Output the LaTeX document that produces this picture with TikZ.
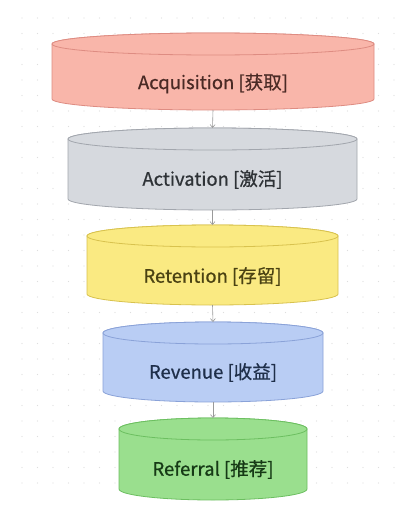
\documentclass[tikz,border=0pt]{standalone}
\usepackage{fontspec}
\setmainfont{Noto Sans CJK SC}
\newfontfamily\cylfont[RawFeature={embolden=0.7}]{Noto Sans CJK SC}
\usetikzlibrary{arrows.meta}
\definecolor{acqF}{HTML}{F9B6AA}\definecolor{acqS}{HTML}{DE8C82}\definecolor{acqT}{HTML}{4A2A25}
\definecolor{actF}{HTML}{D6D9DE}\definecolor{actS}{HTML}{A2A6AD}\definecolor{actT}{HTML}{2E3236}
\definecolor{retF}{HTML}{FAEA82}\definecolor{retS}{HTML}{D8C24E}\definecolor{retT}{HTML}{4A4212}
\definecolor{revF}{HTML}{B9CDF4}\definecolor{revS}{HTML}{8AA2D8}\definecolor{revT}{HTML}{1F2F4A}
\definecolor{refF}{HTML}{9ADF8E}\definecolor{refS}{HTML}{6CBF60}\definecolor{refT}{HTML}{163A16}
\definecolor{gridD}{HTML}{DEDEDE}\definecolor{arrG}{HTML}{9A9A9A}
\tikzset{
  cylbox/.style={inner sep=0pt, outer sep=0pt, minimum width=#1, rectangle},
  cyltext/.style={font=\cylfont\fontsize{18.5}{22}\selectfont, inner sep=1pt},
  flowarrow/.style={draw=arrG, line width=0.6pt, -{Straight Barb[length=3pt,width=5pt]}},
}
% #1 name, #2 cx, #3 top ellipse centre y, #4 bottom ellipse centre y, #5 half width, #6 prefix colour, #7 text, #8 text y
\newcommand\funnelcyl[8]{%
  \def\ry{11}%
  \pgfmathsetmacro\hh{(#4-#3)+2*\ry}%
  \pgfmathsetmacro\mm{(#3+#4)/2}%
  \node[cylbox=#5*2pt, minimum height=\hh pt] (#1) at (#2,-\mm) {};
  \filldraw[fill=#6F, draw=#6S, line width=0.8pt]
    (#2-#5,-#3) -- (#2-#5,-#4) arc[start angle=180,end angle=360,x radius=#5,y radius=\ry]
    -- (#2+#5,-#3) arc[start angle=0,end angle=180,x radius=#5,y radius=\ry] -- cycle;
  \filldraw[fill=#6F, draw=#6S, line width=0.8pt] (#2,-#3) ellipse[x radius=#5,y radius=\ry];
  \node[cyltext, text=#6T] (#1t) at (#2,-#8) {#7};
}
\begin{document}
\begin{tikzpicture}[x=1pt,y=1pt]
\useasboundingbox[fill=white] (0,0) rectangle (415,-514);
% dotted grid
\foreach \gx in {0,...,24}{
  \foreach \gy in {0,...,30}{
    \fill[gridD] (22+\gx*15.5,-18-\gy*15.5) circle[radius=0.7];
  }
}
\funnelcyl{acq}{213}{44}{99}{161}{acq}{Acquisition [获取]}{83.5}
\funnelcyl{act}{212.5}{139}{199}{144.5}{act}{Activation [激活]}{179.5}
\funnelcyl{ret}{212.5}{236}{294}{125.5}{ret}{Retention [存留]}{276.5}
\funnelcyl{rev}{213}{333}{391}{110}{rev}{Revenue [收益]}{372.5}
\funnelcyl{ref}{213}{429}{489}{94}{ref}{Referral [推荐]}{469.5}
\draw[flowarrow] (acq.south) -- (act.north);
\draw[flowarrow] (act.south) -- (ret.north);
\draw[flowarrow] (ret.south) -- (rev.north);
\draw[flowarrow] (rev.south) -- (ref.north);
\end{tikzpicture}
\end{document}
